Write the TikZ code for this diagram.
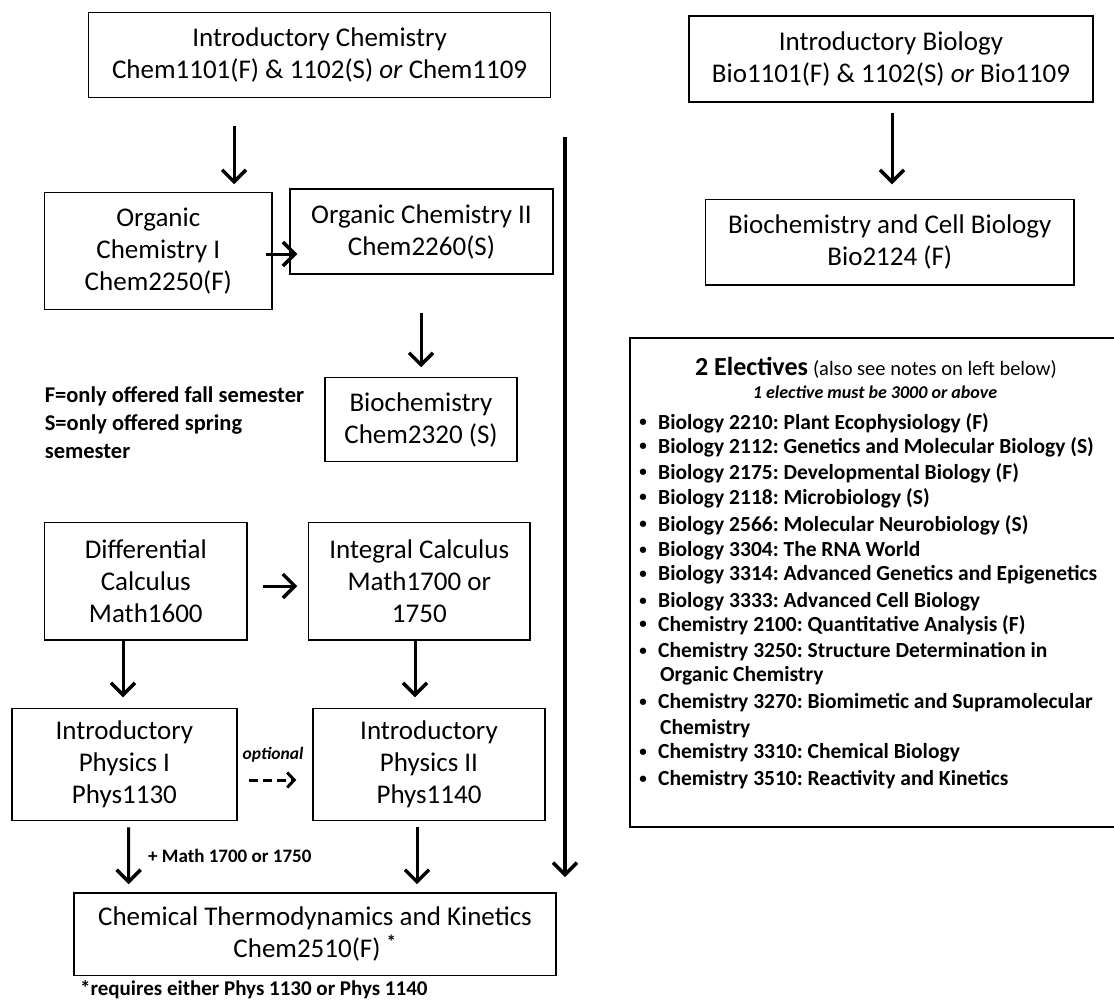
\documentclass[tikz,border=0pt]{standalone}
\usepackage{fontspec}
\setmainfont{Carlito}
\usetikzlibrary{arrows.meta}
\frenchspacing
\begin{document}
\begin{tikzpicture}[x=1pt,y=-1pt,
  box/.style={draw,line width=1.5pt,inner sep=0pt,align=center,font=\fontsize{27}{32}\selectfont},
  arr/.style={line width=3pt,-{Straight Barb[length=12pt,width=24pt,line width=3.5pt]}},
  darr/.style={line width=3pt,dash pattern=on 9pt off 5pt,-{Straight Barb[length=7pt,width=15pt,line width=3pt]}},
  itemtxt/.style={inner sep=0pt,anchor=west,font=\fontsize{21.5}{25}\selectfont\bfseries},
  bul/.style={inner sep=0pt,font=\fontsize{15}{18}\selectfont\bfseries},
  note/.style={inner sep=0pt,font=\fontsize{22.5}{28}\selectfont\bfseries}
]
\useasboundingbox[fill=white] (0,0) rectangle (1114,1001);

% boxes
\node[box,minimum width=462pt,minimum height=85pt] (ichem) at (319.6,55.2) {Introductory Chemistry\\Chem1101(F) \& 1102(S) \textit{or} Chem1109};
\node[box,minimum width=227.4pt,minimum height=116.6pt] (orgI) at (158.3,251) {Organic\\Chemistry I\\Chem2250(F)};
\node[box,minimum width=263pt,minimum height=85pt] (orgII) at (421.5,231.5) {Organic Chemistry II\\Chem2260(S)};
\node[box,minimum width=192pt,minimum height=84pt] (bchem) at (421,419.7) {Biochemistry\\Chem2320 (S)};
\node[box,minimum width=202.4pt,minimum height=117.3pt] (diff) at (145.8,581.3) {Differential\\Calculus\\Math1600};
\node[box,minimum width=221.4pt,minimum height=117.3pt] (integ) at (419.3,581.3) {Integral Calculus\\Math1700 or\\1750};
\node[box,minimum width=225.2pt,minimum height=112.4pt] (phys1) at (124.4,764.5) {Introductory\\Physics I\\Phys1130};
\node[box,minimum width=232pt,minimum height=112.4pt] (phys2) at (429,764.5) {Introductory\\Physics II\\Phys1140};
\node[box,minimum width=482pt,minimum height=82.7pt] (thermo) at (315,934.3) {Chemical Thermodynamics and Kinetics\\Chem2510(F) \textsuperscript{\textbf{*}}};
\node[box,minimum width=404pt,minimum height=86pt] (ibio) at (891,59) {Introductory Biology\\Bio1101(F) \& 1102(S) \textit{or} Bio1109};
\node[box,minimum width=368.4pt,minimum height=85.7pt] (bcell) at (889.8,242.2) {Biochemistry and Cell Biology\\Bio2124 (F)};

% notes
\node[note,anchor=west,align=left] (fsnote) at (44.6,423) {F=only offered fall semester\\S=only offered spring\\semester};
\node[inner sep=0pt,font=\fontsize{17.5}{20}\selectfont\bfseries\itshape] (opt) at (273,755) {optional};
\node[inner sep=0pt,anchor=west,font=\fontsize{19}{22}\selectfont\bfseries] (mathnote) at (148,856) {+ Math 1700 or 1750};
\node[inner sep=0pt,anchor=base west,font=\fontsize{21}{25}\selectfont\bfseries] (foot) at (80,995) {*requires either Phys 1130 or Phys 1140};

% connectors
\draw[arr] ([xshift=-85.6pt,yshift=-27.3pt]ichem.south) -- ([xshift=75.7pt,yshift=7.7pt]orgI.north);
\draw[arr] ([xshift=-7pt,yshift=-3pt]orgI.east) -- ([xshift=8pt,yshift=-22.5pt]orgII.west);
\draw[arr] ([xshift=-0.5pt,yshift=-38pt]orgII.south) -- ([yshift=9.7pt]bchem.north);
\draw[arr] ([xshift=15.5pt,yshift=-4.7pt]diff.east) -- ([xshift=-10.6pt,yshift=-4.7pt]integ.west);
\draw[arr] ([xshift=-22.8pt]diff.south) -- ([xshift=-1.4pt,yshift=10.3pt]phys1.north);
\draw[arr] ([xshift=-4.3pt]integ.south) -- ([xshift=-14pt,yshift=10.3pt]phys2.north);
\draw[darr] ([xshift=11pt,yshift=-15.5pt]phys1.east) -- ([xshift=-16pt,yshift=-15.5pt]phys2.west);
\draw[arr] ([xshift=4.2pt,yshift=-6pt]phys1.south) -- ([xshift=-186.4pt,yshift=8pt]thermo.north);
\draw[arr] ([xshift=-12pt,yshift=-6pt]phys2.south) -- ([xshift=102pt,yshift=8pt]thermo.north);
\draw[arr] ([xshift=1pt,yshift=-10pt]ibio.south) -- ([xshift=2.2pt,yshift=14.3pt]bcell.north);
\coordinate (ltop) at (565,137);
\coordinate (lbot) at (565,877);
\draw[arr,line width=3.5pt] (ltop) -- (lbot);

% electives
\node[minimum width=484pt,minimum height=489pt,inner sep=0pt] (elec) at (872,582.5) {};
\draw[line width=1.5pt] (elec.north east) -- (elec.north west) -- (elec.south west) -- (elec.south east);
\node[inner sep=0pt] (etitle) at (876,368) {{\fontsize{26}{30}\selectfont\bfseries 2 Electives}\hspace{5pt}{\fontsize{20.5}{24}\selectfont (also see notes on left below)}};
\node[inner sep=0pt,font=\fontsize{18}{22}\selectfont\bfseries\itshape] (esub) at (875,392) {1 elective must be 3000 or above};
\foreach \n/\y/\t in {
  1/423/{Biology 2210: Plant Ecophysiology (F)},
  2/447/{Biology 2112: Genetics and Molecular Biology (S)},
  3/473/{Biology 2175: Developmental Biology (F)},
  4/498/{Biology 2118: Microbiology (S)},
  5/525/{Biology 2566: Molecular Neurobiology (S)},
  6/551/{Biology 3304: The RNA World},
  7/575/{Biology 3314: Advanced Genetics and Epigenetics},
  8/602/{Biology 3333: Advanced Cell Biology},
  9/625/{Chemistry 2100: Quantitative Analysis (F)},
  10/652/{Chemistry 3250: Structure Determination in},
  11/703/{Chemistry 3270: Biomimetic and Supramolecular},
  12/753/{Chemistry 3310: Chemical Biology},
  13/780/{Chemistry 3510: Reactivity and Kinetics}}{
  \node[bul] (bul\n) at (643,\y) {\textbullet};
  \node[itemtxt] (item\n) at (658,\y) {\t};
}
\node[itemtxt] (item10b) at (660,676) {Organic Chemistry};
\node[itemtxt] (item11b) at (660,729) {Chemistry};
\end{tikzpicture}
\end{document}
